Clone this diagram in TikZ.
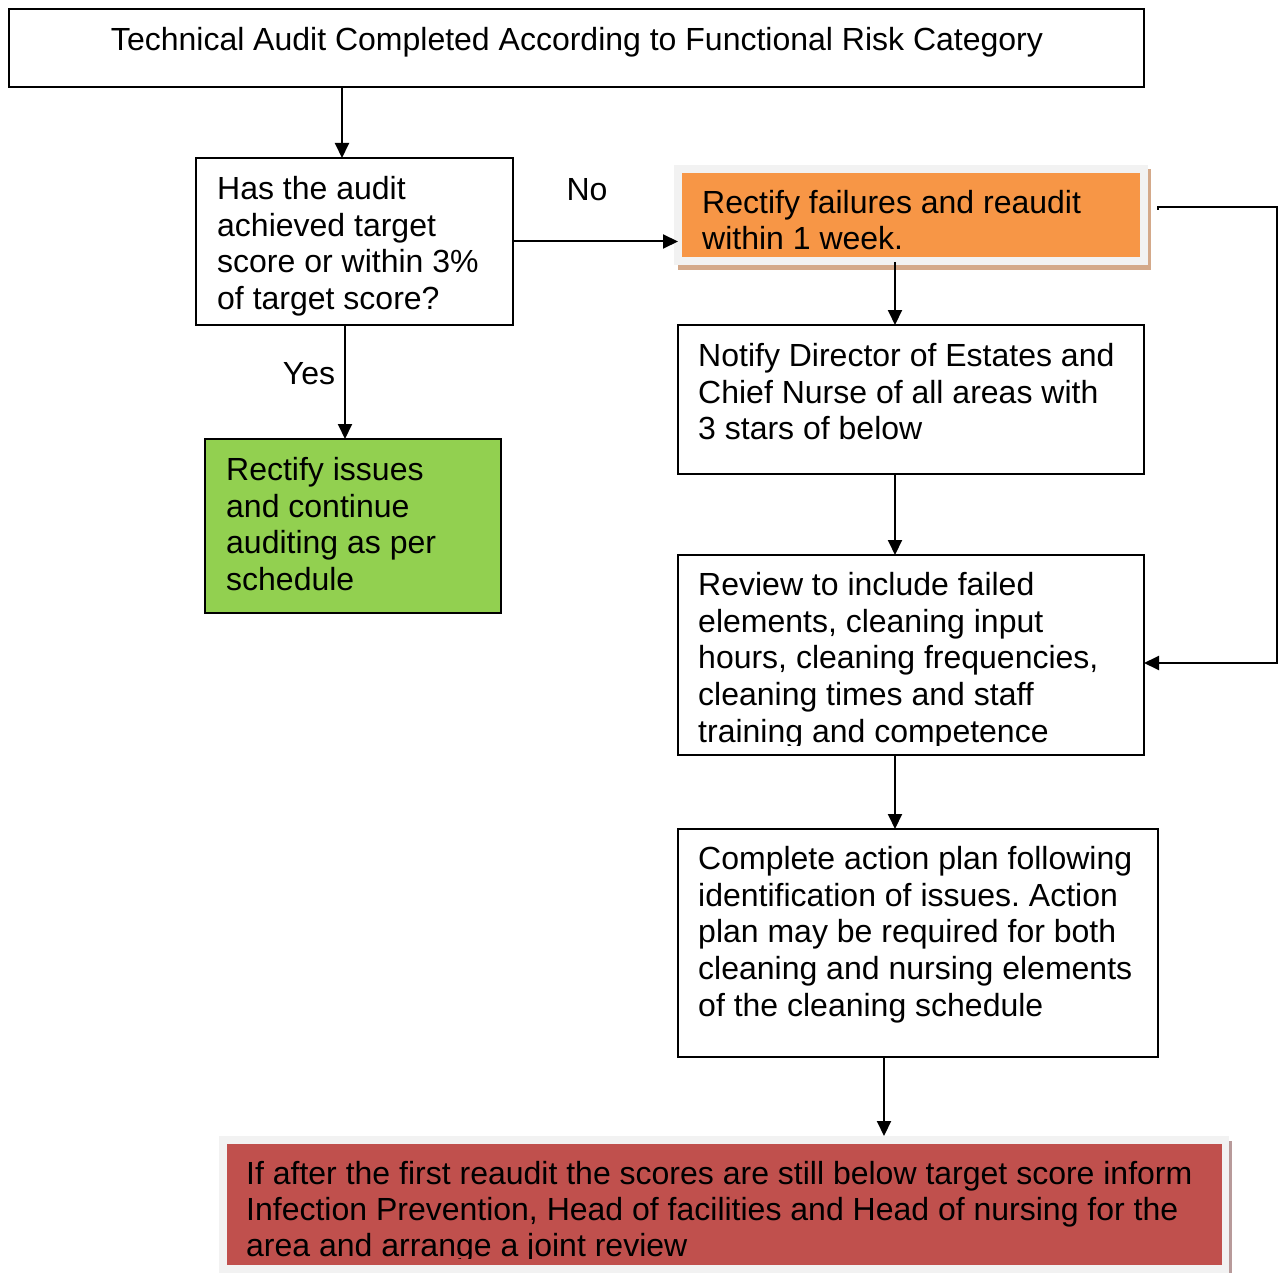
\documentclass[tikz,border=0pt]{standalone}
\usepackage{fontspec}
\setmainfont{Liberation Sans}
\usetikzlibrary{arrows.meta}
\definecolor{orng}{HTML}{F79646}
\definecolor{rd}{HTML}{C0504D}
\definecolor{grn}{HTML}{92D050}
\definecolor{frame}{HTML}{F2F2F2}
\definecolor{tan}{HTML}{D4A98A}
\definecolor{rose}{HTML}{B89A9A}
\frenchspacing
\begin{document}
\begin{tikzpicture}[x=1pt,y=-1pt,
  box/.style={draw=black, line width=1.5pt, anchor=north west, inner sep=0pt, outer sep=0pt},
  plain/.style={anchor=north west, inner sep=0pt, outer sep=0pt},
  txt/.style={anchor=north west, inner sep=0pt, align=left, font=\fontsize{32}{36.8}\selectfont},
  txtb/.style={txt, font=\fontsize{32}{35.8}\selectfont},
  lbl/.style={inner sep=0pt, font=\fontsize{32}{36.8}\selectfont},
  arr/.style={line width=2pt, -{Triangle[length=15pt,width=14pt]}}]
\useasboundingbox (0,0) rectangle (1279,1273);

% top box
\node[box, minimum width=1135pt, minimum height=78pt] (top) at (9,9) {};
\node[lbl] (topt) at (577,42) {Technical Audit Completed According to Functional Risk Category};

% decision
\node[box, minimum width=317pt, minimum height=167pt] (dec) at (196,158) {};
\node[txt] (dect) at (217,176) {Has the audit\\achieved target\\score or within 3\%\\of target score?};

% green
\node[box, fill=grn, minimum width=296pt, minimum height=174pt] (grnb) at (205,439) {};
\node[txt] (grnt) at (226,457) {Rectify issues\\and continue\\auditing as per\\schedule};

% orange (framed)
\node[plain, fill=tan, minimum width=473pt, minimum height=101pt] (oshadow) at (678,169) {};
\node[plain, fill=frame, minimum width=474pt, minimum height=100pt] (oframe) at (674,165) {};
\node[plain, fill=orng, minimum width=458pt, minimum height=84pt] (orng) at (682,173) {};
\node[txtb] (orngt) at (702,190) {Rectify failures and reaudit\\within 1 week.};

% notify
\node[box, minimum width=466pt, minimum height=149pt] (notify) at (678,325) {};
\node[txt] (notifyt) at (698,343) {Notify Director of Estates and\\Chief Nurse of all areas with\\3 stars of below};

% review
\node[box, minimum width=466pt, minimum height=200pt] (review) at (678,555) {};
\begin{scope}
\clip (679,556) rectangle (1143,745);
\node[txt] (reviewt) at (698,572) {Review to include failed\\elements, cleaning input\\hours, cleaning frequencies,\\cleaning times and staff\\training and competence};
\end{scope}

% complete
\node[box, minimum width=480pt, minimum height=228pt] (compl) at (678,829) {};
\node[txt] (complt) at (698,846) {Complete action plan following\\identification of issues. Action\\plan may be required for both\\cleaning and nursing elements\\of the cleaning schedule};

% red (framed)
\node[plain, fill=rose, minimum width=4pt, minimum height=132pt] (rshadow) at (1228,1141) {};
\node[plain, fill=frame, minimum width=1010pt, minimum height=137pt] (rframe) at (219,1136) {};
\node[plain, fill=rd, minimum width=995pt, minimum height=121pt] (redb) at (227,1144) {};
\begin{scope}
\clip (227,1144) rectangle (1222,1258);
\node[txtb] (redt) at (246,1161) {If after the first reaudit the scores are still below target score inform\\Infection Prevention, Head of facilities and Head of nursing for the\\area and arrange a joint review};
\end{scope}

% labels
\node[lbl] (nolbl) at (587,190) {No};
\node[lbl] (yeslbl) at (309,374) {Yes};

% connectors
\draw[arr] ([xshift=-12.5pt]dec.north |- top.south) -- ([xshift=-12.5pt]dec.north);
\draw[arr] (dec.east) -- ([xshift=4pt]dec.east -| oframe.west);
\draw[arr] ([xshift=-9.5pt]dec.south) -- ([xshift=-9.5pt]dec.south |- grnb.north);
\draw[arr] ([xshift=-16pt]orng.south) ++(0,5) -- ([xshift=-16pt]notify.north);
\draw[arr] ([xshift=-16pt]notify.south) -- ([xshift=-16pt]review.north);
\draw[arr] ([xshift=-16pt]review.south) -- ([xshift=-16pt]review.south |- compl.north);
\draw[arr] ([xshift=-34pt]compl.south) -- ([xshift=-34pt]compl.south |- rframe.north);
\coordinate (fbstart) at (1158,210);
\draw[arr] (fbstart) -- ++(0,-3) -- ++(119,0) |- ([yshift=-8pt]review.east);
\end{tikzpicture}
\end{document}
